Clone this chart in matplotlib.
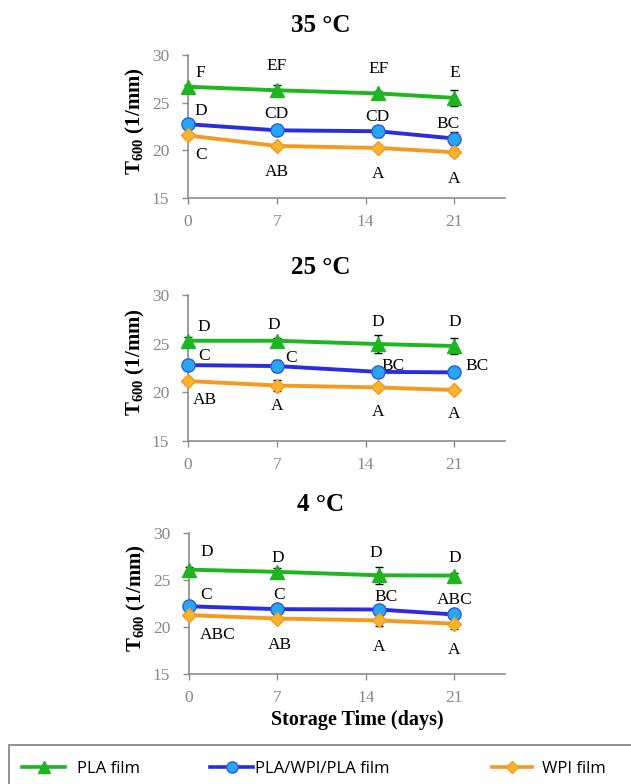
import matplotlib
matplotlib.use("Agg")
import matplotlib.pyplot as plt
from matplotlib.patches import Rectangle
from matplotlib.lines import Line2D

plt.rcParams["mathtext.fontset"] = "custom"
plt.rcParams["mathtext.rm"] = "Liberation Serif"
plt.rcParams["mathtext.bf"] = "Liberation Serif:bold"

# Storage days and per-temperature T600 means (1/mm), SD and Duncan letters
days = [0, 7, 15, 21]
x_ticks = [0, 7, 14, 21]
temps = ["35 °C", "25 °C", "4 °C"]

pla_35 = [26.67, 26.30, 25.97, 25.50]
pla_35_sd = [0.2, 0.6, 0.3, 0.8]
blend_35 = [22.74, 22.10, 22.00, 21.24]
blend_35_sd = [0.3, 0.3, 0.6, 0.7]
wpi_35 = [21.56, 20.46, 20.25, 19.80]
wpi_35_sd = [0.3, 0.3, 0.3, 0.4]

pla_25 = [25.30, 25.30, 24.96, 24.76]
pla_25_sd = [0.4, 0.3, 0.9, 0.8]
blend_25 = [22.80, 22.70, 22.10, 22.05]
blend_25_sd = [0.3, 0.6, 0.3, 0.5]
wpi_25 = [21.16, 20.70, 20.50, 20.24]
wpi_25_sd = [0.3, 0.6, 0.3, 0.3]

pla_4 = [26.10, 25.87, 25.50, 25.47]
pla_4_sd = [0.3, 0.4, 0.9, 0.3]
blend_4 = [22.20, 21.90, 21.86, 21.33]
blend_4_sd = [0.3, 0.3, 0.4, 0.3]
wpi_4 = [21.26, 20.90, 20.70, 20.35]
wpi_4_sd = [0.3, 0.3, 0.6, 0.6]

pla_35_let = ["F", "EF", "EF", "E"]
blend_35_let = ["D", "CD", "CD", "BC"]
wpi_35_let = ["C", "AB", "A", "A"]
pla_25_let = ["D", "D", "D", "D"]
blend_25_let = ["C", "C", "BC", "BC"]
wpi_25_let = ["AB", "A", "A", "A"]
pla_4_let = ["D", "D", "D", "D"]
blend_4_let = ["C", "C", "BC", "ABC"]
wpi_4_let = ["ABC", "AB", "A", "A"]

series_names = ["PLA film", "PLA/WPI/PLA film", "WPI film"]

# Letter placement offsets (days, T600 units) relative to each point
pla_35_off = [(1.0, 1.43), (0, 2.5), (0, 2.53), (0, 2.6)]
blend_35_off = [(1.0, 1.36), (0, 1.7), (-0.1, 1.5), (-0.5, 1.56)]
wpi_35_off = [(1.0, -2.0), (0, -2.73), (0, -2.75), (0, -2.77)]
pla_25_off = [(1.26, 1.44), (-0.25, 1.6), (0, 2.24), (0, 2.5)]
blend_25_off = [(1.26, 0.93), (1.1, 0.8), (1.2, 0.6), (1.8, 0.65)]
wpi_25_off = [(1.3, -1.96), (0, -2.1), (0, -2.5), (0, -2.44)]
pla_4_off = [(1.4, 1.88), (0, 1.48), (-0.2, 2.4), (0, 1.88)]
blend_4_off = [(1.35, 1.2), (0.1, 1.5), (0.6, 1.34), (0, 1.52)]
wpi_4_off = [(2.3, -2.06), (0.2, -2.85), (0, -2.8), (0, -2.85)]

panels = [
    [(pla_35, pla_35_sd, pla_35_let, pla_35_off),
     (blend_35, blend_35_sd, blend_35_let, blend_35_off),
     (wpi_35, wpi_35_sd, wpi_35_let, wpi_35_off)],
    [(pla_25, pla_25_sd, pla_25_let, pla_25_off),
     (blend_25, blend_25_sd, blend_25_let, blend_25_off),
     (wpi_25, wpi_25_sd, wpi_25_let, wpi_25_off)],
    [(pla_4, pla_4_sd, pla_4_let, pla_4_off),
     (blend_4, blend_4_sd, blend_4_let, blend_4_off),
     (wpi_4, wpi_4_sd, wpi_4_let, wpi_4_off)],
]

styles = [
    dict(color="#1DB520", marker="^", mfc="#1DB520", mec="#1DB520", ms=10.5),
    dict(color="#2B2BE3", marker="o", mfc="#27A6F2", mec="#2B5BE3", ms=9.5),
    dict(color="#F49A1E", marker="D", mfc="#F9B52E", mec="#F49A1E", ms=7.5),
]

serif = "Liberation Serif"
W, H = 631, 784
fig = plt.figure(figsize=(W / 100, H / 100), dpi=100)

# axes rectangles in pixel coordinates: (left, top, right, bottom)
rects = [(188, 55, 505, 198), (188, 295, 505, 441), (189, 533, 505, 674)]
title_y = [26, 267, 504]
gray = "#8C8C8C"

for i, (ax_rect, panel) in enumerate(zip(rects, panels)):
    l, t, r, b = ax_rect
    ax = fig.add_axes([l / W, 1 - b / H, (r - l) / W, (b - t) / H])
    for (vals, sd, lets, offs), st in zip(panel, styles):
        ax.errorbar(days, vals, yerr=sd, color=st["color"], lw=2.8,
                    marker=st["marker"], ms=st["ms"], mfc=st["mfc"],
                    mec=st["mec"], mew=1.0, ecolor="black", elinewidth=1.0,
                    capsize=3, capthick=1.0, zorder=3, clip_on=False)
        for d, v, lt, (dx, dy) in zip(days, vals, lets, offs):
            ax.text(d + dx, v + dy, lt, ha="center", va="center",
                    family=serif, fontsize=12.5, color="black")
    ax.set_xlim(0, 25)
    ax.set_ylim(15, 30)
    ax.set_xticks(x_ticks)
    ax.set_yticks([15, 20, 25, 30])
    for side in ("top", "right"):
        ax.spines[side].set_visible(False)
    for side in ("left", "bottom"):
        ax.spines[side].set_color(gray)
        ax.spines[side].set_linewidth(1.2)
    ax.tick_params(colors=gray, length=4.5, width=1.0, labelsize=12.5)
    ax.tick_params(axis="y", pad=9)
    ax.tick_params(axis="x", pad=7)
    for lab in ax.get_xticklabels() + ax.get_yticklabels():
        lab.set_family(serif)
        lab.set_color("#888888")
    ax.set_ylabel(r"$\mathbf{T}_{\mathbf{600}}$ (1/mm)", family=serif,
                  fontsize=15, fontweight="bold")
    ax.yaxis.set_label_coords(-0.13, 0.54)
    fig.text(321 / W, 1 - title_y[i] / H, temps[i], ha="center",
             va="center", family=serif, fontsize=18, fontweight="bold")

fig.text(357 / W, 1 - 720 / H, "Storage Time (days)", ha="center",
         va="center", family=serif, fontsize=14.5, fontweight="bold")

# legend box at the bottom
fig.patches.append(Rectangle((9 / W, -0.02), 1.0, 0.02 + (784 - 745) / H,
                             transform=fig.transFigure, fill=False,
                             edgecolor="#7F7F7F", lw=1.2))

# one legend per entry so each can sit at its own spot
legend_x = [22, 210, 492]
legend_handle_len = [2.6, 2.6, 2.4]
legend_text_pad = [0.72, 0.12, 0.6]
for name, st, lx, hl, tp in zip(series_names, styles, legend_x,
                                legend_handle_len, legend_text_pad):
    h = Line2D([], [], color=st["color"], lw=2.6, marker=st["marker"],
               ms=st["ms"] * 0.85, mfc=st["mfc"], mec=st["mec"])
    lg = fig.legend([h], [name], loc="center left",
                    bbox_to_anchor=(lx / W, 1 - 769 / H), frameon=False,
                    prop={"family": "Open Sans", "size": 12},
                    handlelength=hl, handletextpad=tp, borderpad=0,
                    borderaxespad=0)

fig.savefig("out.png", dpi=100)
